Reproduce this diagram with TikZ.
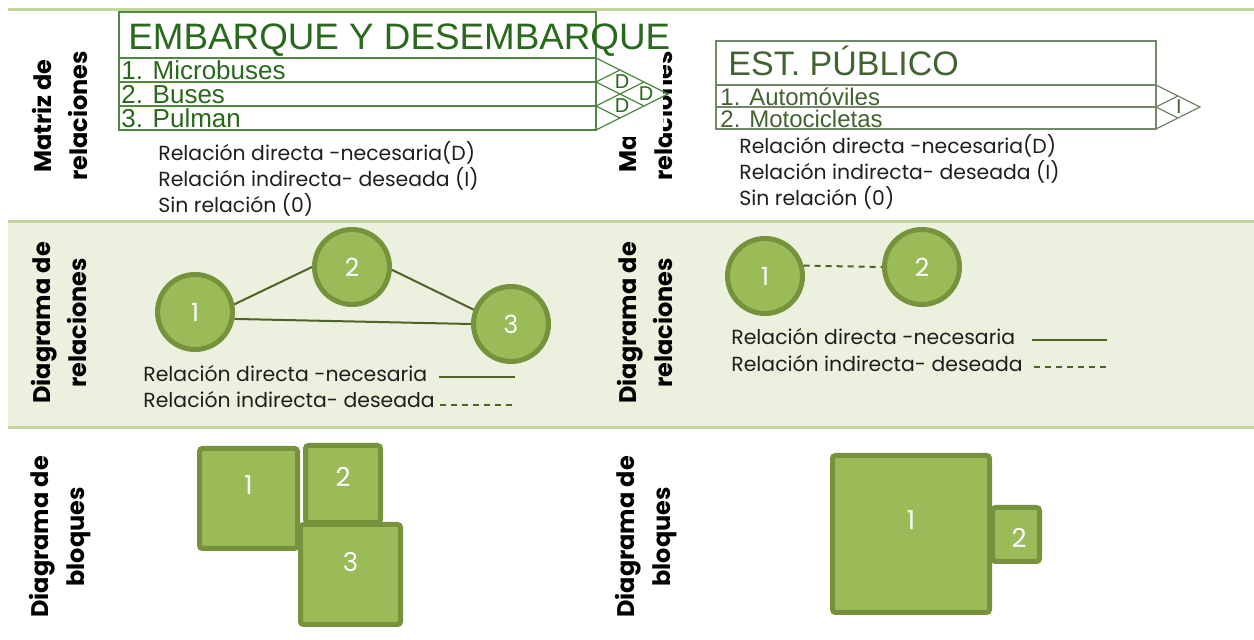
\documentclass[tikz,border=0pt]{standalone}
\usepackage{fontspec}
\setmainfont{Poppins}
\newfontfamily\arialfam{Liberation Sans}
\definecolor{fondo}{RGB}{235,241,222}
\definecolor{franja}{RGB}{195,214,155}
\definecolor{relleno}{RGB}{155,187,89}
\definecolor{borde}{RGB}{118,146,60}
\definecolor{linea}{RGB}{79,98,40}
\definecolor{texto}{RGB}{30,30,30}
\definecolor{matA}{RGB}{40,105,28}
\definecolor{bordeA}{RGB}{80,135,65}
\definecolor{matB}{RGB}{66,98,50}
\definecolor{bordeB}{RGB}{115,135,105}
\begin{document}
\begin{tikzpicture}[x=0.5pt,y=-0.5pt,
  circulo/.style={circle, draw=borde, fill=relleno, line width=2.5pt, minimum size=37.5pt, inner sep=0pt, text=white, font=\fontsize{12.5}{14}\selectfont},
  bloque/.style={draw=borde, fill=relleno, line width=2.5pt, rounded corners=1.5pt, inner sep=0pt},
  numero/.style={text=white, font=\fontsize{13}{15}\selectfont},
  etiqueta/.style={rotate=90, align=center, text=black, font=\bfseries\fontsize{12}{18}\selectfont},
  leyenda/.style={anchor=base west, inner sep=0pt, text=texto, font=\fontsize{10.2}{12}\selectfont},
  rel/.style={draw=linea, line width=1pt},
  relind/.style={rel, dash pattern=on 3pt off 2.5pt}]
\useasboundingbox (0,0) rectangle (1254,640);

\fill[fondo] (8,222) rectangle (1254,428);
\draw[franja, line width=1.5pt] (8,10) -- (1254,10);
\draw[franja, line width=1.5pt] (8,222) -- (1254,222);
\draw[franja, line width=1.5pt] (8,428) -- (1254,428);

\node[etiqueta] (matrizA) at (60,116) {Matriz de\\relaciones};
\node[etiqueta] (matrizB) at (645,116) {Matriz de\\relaciones};
\node[etiqueta] (diagramaA) at (59,323) {Diagrama de\\relaciones};
\node[etiqueta] (diagramaB) at (645,323) {Diagrama de\\relaciones};
\node[etiqueta] (bloquesA) at (60,537) {Diagrama de\\bloques};
\node[etiqueta] (bloquesB) at (646,537) {Diagrama de\\bloques};

\fill[white] (118,12) rectangle (663,137);
\draw[bordeA, line width=0.6pt] (119,12) rectangle (596,58) (119,58) rectangle (596,82)
  (119,82) rectangle (596,106) (119,106) rectangle (596,130);
\draw[bordeA, line width=0.6pt] (596,58) -- (668,94) -- (596,130)
  (620,70) -- (596,82) -- (644,106) (644,82) -- (596,106) -- (620,118);
\node[anchor=base west, inner sep=0pt, text=matA, font=\arialfam\fontsize{18.4}{20}\selectfont] (tituloA) at (128,50) {EMBARQUE Y DESEMBARQUE};
\node[anchor=base west, inner sep=0pt, text=matA, font=\arialfam\fontsize{13}{15}\selectfont] (fila1) at (121,80) {1. Microbuses};
\node[anchor=base west, inner sep=0pt, text=matA, font=\arialfam\fontsize{13}{15}\selectfont] (fila2) at (121,104) {2. Buses};
\node[anchor=base west, inner sep=0pt, text=matA, font=\arialfam\fontsize{13}{15}\selectfont] (fila3) at (121,128) {3. Pulman};
\node[text=matA, inner sep=0pt, font=\arialfam\fontsize{10}{11}\selectfont] (d12) at (622,82) {D};
\node[text=matA, inner sep=0pt, font=\arialfam\fontsize{10}{11}\selectfont] (d23) at (622,106) {D};
\node[text=matA, inner sep=0pt, font=\arialfam\fontsize{10}{11}\selectfont] (d13) at (646,94) {D};

\draw[bordeB, line width=0.6pt] (716,41) rectangle (1156,85) (716,85) rectangle (1156,107)
  (716,107) rectangle (1156,129);
\draw[bordeB, line width=0.6pt] (1156,85) -- (1200,107) -- (1156,129)
  (1178,96) -- (1156,107) -- (1178,118);
\node[anchor=base west, inner sep=0pt, text=matB, font=\arialfam\fontsize{17}{19}\selectfont] (tituloB) at (728,76) {EST. PÚBLICO};
\node[anchor=base west, inner sep=0pt, text=matB, font=\arialfam\fontsize{12}{14}\selectfont] (filaB1) at (720,106) {1. Automóviles};
\node[anchor=base west, inner sep=0pt, text=matB, font=\arialfam\fontsize{12}{14}\selectfont] (filaB2) at (720,128) {2. Motocicletas};
\node[text=matB, inner sep=0pt, font=\arialfam\fontsize{10}{11}\selectfont] (i12) at (1179,107) {I};

\node[leyenda] (leyA1) at (158,161) {Relación directa -necesaria(D)};
\node[leyenda] (leyA2) at (158,187) {Relación indirecta- deseada (I)};
\node[leyenda] (leyA3) at (158,213) {Sin relación (0)};
\node[leyenda] (leyB1) at (739,154) {Relación directa -necesaria(D)};
\node[leyenda] (leyB2) at (739,180) {Relación indirecta- deseada (I)};
\node[leyenda] (leyB3) at (739,206) {Sin relación (0)};

\node[circulo] (c1) at (195,312) {1};
\node[circulo] (c2) at (352,267) {2};
\node[circulo] (c3) at (511,324) {3};
\draw[rel] (c1.11) -- (c2.west);
\draw[rel] (c2.-4) -- (c3.159);
\draw[rel] (c1.-10) -- (c3.west);
\node[leyenda] (leyC1) at (143,382) {Relación directa -necesaria};
\node[leyenda] (leyC2) at (143,408) {Relación indirecta- deseada};
\coordinate (solA1) at (439,377);
\coordinate (solA2) at (515,377);
\coordinate (desA1) at (440,405);
\coordinate (desA2) at (517,405);
\draw[rel] (solA1) -- (solA2);
\draw[relind] (desA1) -- (desA2);

\node[circulo] (e1) at (765,276) {1};
\node[circulo] (e2) at (922,267) {2};
\draw[relind] (e1.15) -- (e2.west);
\node[leyenda] (leyD1) at (731,345) {Relación directa -necesaria};
\node[leyenda] (leyD2) at (731,372) {Relación indirecta- deseada};
\coordinate (solB1) at (1032,340);
\coordinate (solB2) at (1107,340);
\coordinate (desB1) at (1034,367);
\coordinate (desB2) at (1109,367);
\draw[rel] (solB1) -- (solB2);
\draw[relind] (desB1) -- (desB2);

\node[bloque, minimum width=49pt, minimum height=50pt, label={[numero, yshift=6.75pt]center:1}] (bl1) at (248.5,498.5) {};
\node[bloque, minimum width=37.5pt, minimum height=38.5pt, label={[numero, yshift=3.5pt]center:2}] (bl2) at (343,484) {};
\node[bloque, minimum width=50pt, minimum height=50pt, label={[numero, yshift=6.25pt]center:3}] (bl3) at (350.5,574.5) {};

\node[bloque, minimum width=23.5pt, minimum height=27pt, label={[numero, xshift=1.5pt, yshift=-1.75pt]center:2}] (br2) at (1016,534.5) {};
\node[bloque, minimum width=78.5pt, minimum height=78.5pt, label={[numero, yshift=7pt]center:1}] (br1) at (911,534) {};
\end{tikzpicture}
\end{document}
